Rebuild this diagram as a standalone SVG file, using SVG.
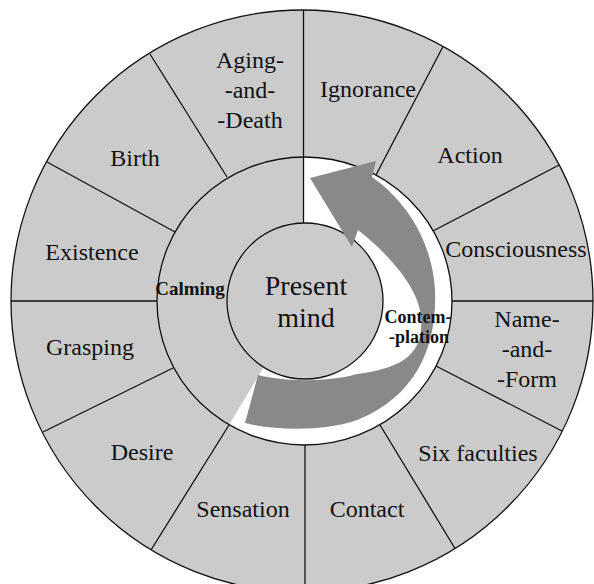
<svg xmlns="http://www.w3.org/2000/svg" width="594" height="584" viewBox="0 0 594 584">
<style>
.ln{stroke:#111;stroke-width:1.3;fill:none}
.t{font-family:"Liberation Serif","Times New Roman",serif;font-size:24px;fill:#111;text-anchor:middle}
.c{font-family:"Liberation Serif","Times New Roman",serif;font-size:28px;fill:#111;text-anchor:middle}
.b{font-family:"Liberation Serif","Times New Roman",serif;font-size:18px;font-weight:bold;fill:#111;text-anchor:middle}
</style>
<rect width="594" height="584" fill="#fff"/>
<g id="outer-ring">
<circle cx="302" cy="301" r="291" fill="#cbcbcb" stroke="#111" stroke-width="1.3"/>
</g>
<g id="middle-ring">
<ellipse cx="304.5" cy="301" rx="147.5" ry="144" fill="#cbcbcb"/>
<path d="M303.5,157 A147.5,144 0 1 1 229,425 L263.7,367.1 A78,78 0 1 0 303.5,223 Z" fill="#fff"/>
<ellipse cx="304.5" cy="301" rx="147.5" ry="144" class="ln"/>
</g>
<g id="present-mind">
<circle cx="305" cy="301" r="78" fill="#cbcbcb" stroke="#111" stroke-width="1.3"/>
<text class="c" x="306" y="295">Present</text>
<text class="c" x="306" y="327">mind</text>
</g>
<g id="arrow">
<path d="M372,177 C405,200 432,240 435,290 C437,345 418,395 357,420 C330,430 280,432 245,423 L258,375 C285,382 330,382 357,374 C400,368 424,356 421,318 C420,290 390,255 358,230 L352,247 L310,178 L376,161 Z" fill="#898989"/>
</g>
<g id="connectors">
<path class="ln" d="M303.5,10 V223"/>
<path class="ln" d="M376,175 L443,46.5"/>
<path class="ln" d="M433,231 L559,165"/>
<path class="ln" d="M452,301 L593,301"/>
<path class="ln" d="M436,366 L562,431"/>
<path class="ln" d="M380,425 L455,548.5"/>
<path class="ln" d="M305,445 V592"/>
<path class="ln" d="M229,425 L151,550"/>
<path class="ln" d="M173,368 L43,432"/>
<path class="ln" d="M11,301 L157,301"/>
<path class="ln" d="M175,232 L47,162"/>
<path class="ln" d="M227,177 L150,54"/>
</g>
<g id="ignorance"><text class="t" x="368" y="97">Ignorance</text></g>
<g id="action"><text class="t" x="470" y="163">Action</text></g>
<g id="consciousness"><text class="t" x="516" y="257">Consciousness</text></g>
<g id="name-and-form"><text class="t" x="527" y="327">Name-</text><text class="t" x="527" y="357">-and-</text><text class="t" x="527" y="387">-Form</text></g>
<g id="six-faculties"><text class="t" x="478" y="461">Six faculties</text></g>
<g id="contact"><text class="t" x="367" y="517">Contact</text></g>
<g id="sensation"><text class="t" x="243" y="517">Sensation</text></g>
<g id="desire"><text class="t" x="142" y="460">Desire</text></g>
<g id="grasping"><text class="t" x="90" y="355">Grasping</text></g>
<g id="existence"><text class="t" x="92" y="260">Existence</text></g>
<g id="birth"><text class="t" x="135" y="166">Birth</text></g>
<g id="aging-and-death"><text class="t" x="250" y="68">Aging-</text><text class="t" x="250" y="98">-and-</text><text class="t" x="250" y="128">-Death</text></g>
<g id="calming"><text class="b" x="190" y="295" style="font-size:19px">Calming</text></g>
<g id="contemplation"><text class="b" x="418" y="323">Contem-</text><text class="b" x="419" y="343">-plation</text></g>
</svg>
